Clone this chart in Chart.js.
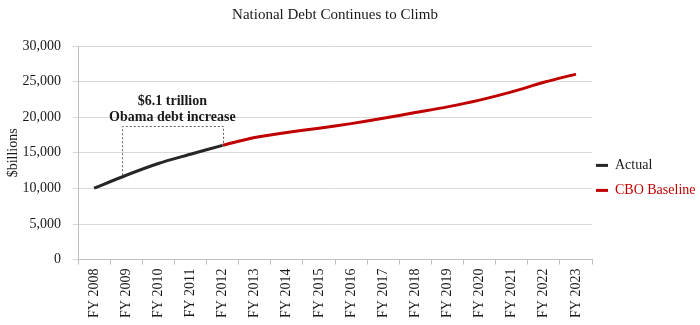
<!DOCTYPE html>
<html>
<head>
<meta charset="utf-8">
<script src="https://cdn.jsdelivr.net/npm/chart.js@4/dist/chart.umd.min.js"></script>
<style>
  html, body { margin: 0; padding: 0; background: #fff; }
  #wrap { width: 700px; height: 325px; }
</style>
</head>
<body>
<div id="wrap"><canvas id="c" width="700" height="325"></canvas></div>
<script>
const categories = ["FY 2008","FY 2009","FY 2010","FY 2011","FY 2012","FY 2013","FY 2014","FY 2015","FY 2016","FY 2017","FY 2018","FY 2019","FY 2020","FY 2021","FY 2022","FY 2023"];
const actualDebt = [10025, 11850, 13500, 14790, 16050, null, null, null, null, null, null, null, null, null, null, null];
const cboBaseline = [null, null, null, null, 16050, 17150, 17850, 18450, 19100, 19850, 20650, 21450, 22400, 23550, 24900, 26050];
const seriesNames = ["Actual", "CBO Baseline"];
const seriesColors = ["#262626", "#C00000"];
const annotationLines = ["$6.1 trillion", "Obama debt increase"];
const bracketStartIndex = 1;
const bracketEndIndex = 4;
const bracketTopValue = 18700;

const serif = "'Liberation Serif', 'DejaVu Serif', serif";

const bracketPlugin = {
  id: 'bracket',
  afterDatasetsDraw(chart) {
    const { ctx, scales } = chart;
    const xs = scales.x, ys = scales.y;
    const x1 = xs.getPixelForValue(bracketStartIndex) - 4;
    const x2 = xs.getPixelForValue(bracketEndIndex);
    const yTop = ys.getPixelForValue(bracketTopValue);
    const y1 = ys.getPixelForValue(actualDebt[bracketStartIndex]);
    const y2 = ys.getPixelForValue(actualDebt[bracketEndIndex]);
    ctx.save();
    ctx.strokeStyle = '#606060';
    ctx.lineWidth = 1;
    ctx.setLineDash([2, 2]);
    ctx.beginPath();
    ctx.moveTo(Math.round(x1) + 0.5, y1);
    ctx.lineTo(Math.round(x1) + 0.5, Math.round(yTop) + 0.5);
    ctx.lineTo(Math.round(x2) + 0.5, Math.round(yTop) + 0.5);
    ctx.lineTo(Math.round(x2) + 0.5, y2);
    ctx.stroke();
    ctx.setLineDash([]);
    ctx.fillStyle = '#1a1a1a';
    ctx.font = "bold 14px " + serif;
    ctx.textAlign = 'center';
    ctx.textBaseline = 'alphabetic';
    const cx = (x1 + x2) / 2;
    ctx.fillText(annotationLines[0], cx, yTop - 21);
    ctx.fillText(annotationLines[1], cx, yTop - 5);
    ctx.restore();
  }
};

// keep the legend column at a fixed width, as in the reference
const legendWidthPlugin = {
  id: 'legendWidth',
  beforeLayout(chart) {
    const lg = chart.legend;
    if (lg && !lg._fixedWidth) {
      const orig = lg.fit.bind(lg);
      lg.fit = function () { orig(); this.width = 108; };
      lg._fixedWidth = true;
    }
  },
  afterLayout(chart) {
    const lg = chart.legend;
    if (lg) { lg.left -= 7; }
  }
};

new Chart(document.getElementById('c'), {
  type: 'line',
  data: {
    labels: categories,
    datasets: [
      { label: seriesNames[0], data: actualDebt, borderColor: seriesColors[0], backgroundColor: seriesColors[0], borderWidth: 3, pointRadius: 0, tension: 0.25, spanGaps: false },
      { label: seriesNames[1], data: cboBaseline, borderColor: seriesColors[1], backgroundColor: seriesColors[1], borderWidth: 3, pointRadius: 0, tension: 0.25, spanGaps: false }
    ]
  },
  options: {
    responsive: false,
    animation: false,
    layout: { padding: { left: 0, right: 0, top: 0, bottom: 3 } },
    plugins: {
      title: {
        display: true,
        text: 'National Debt Continues to Climb',
        fullSize: false,
        color: '#1a1a1a',
        font: { family: serif, size: 15, weight: 'normal' },
        padding: { top: 6, bottom: 22 }
      },
      legend: {
        display: true,
        position: 'right',
        title: { display: true, text: ' ', padding: { top: 0, bottom: 17 }, font: { family: serif, size: 14 } },
        labels: {
          boxWidth: 12,
          boxHeight: 3,
          padding: 11,
          font: { family: serif, size: 14 },
          generateLabels(chart) {
            return chart.data.datasets.map((ds, i) => ({
              text: ds.label,
              fillStyle: ds.borderColor,
              strokeStyle: ds.borderColor,
              lineWidth: 0,
              fontColor: i === 0 ? '#1a1a1a' : seriesColors[1],
              datasetIndex: i,
              hidden: false
            }));
          }
        }
      },
      tooltip: { enabled: false }
    },
    scales: {
      x: {
        offset: true,
        grid: { display: true, offset: true, drawOnChartArea: false, drawTicks: true, tickLength: 5, color: '#bfbfbf' },
        border: { display: true, color: '#bfbfbf' },
        ticks: { color: '#1a1a1a', font: { family: serif, size: 14 }, minRotation: 90, maxRotation: 90, padding: 4, autoSkip: false }
      },
      y: {
        min: 0,
        max: 30000,
        afterFit(scale) { scale.width = 78; },
        title: { display: true, text: '$billions', color: '#1a1a1a', font: { family: serif, size: 14 }, padding: { top: 5, bottom: 0 } },
        grid: { color: '#d9d9d9', tickLength: 5, drawTicks: true },
        border: { display: true, color: '#bfbfbf' },
        ticks: { stepSize: 5000, color: '#1a1a1a', font: { family: serif, size: 14 }, padding: 12,
          callback: v => v.toLocaleString('en-US') }
      }
    }
  },
  plugins: [bracketPlugin, legendWidthPlugin]
});
</script>
</body>
</html>
